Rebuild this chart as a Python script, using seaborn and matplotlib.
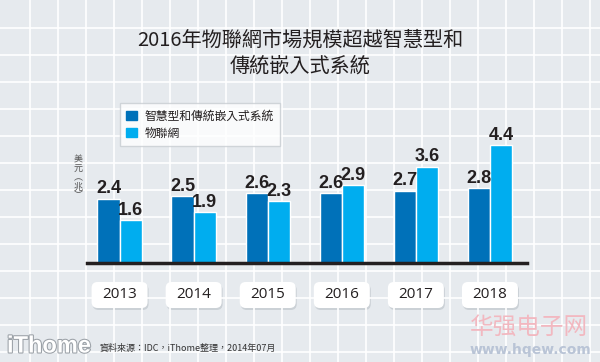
import numpy as np
import pandas as pd
import seaborn as sns
import matplotlib.pyplot as plt
import matplotlib.patheffects as pe
from matplotlib.patches import Patch, FancyBboxPatch

sns.set_style('white')
plt.rcParams['font.family'] = ['Noto Sans CJK TC', 'DejaVu Sans']

# data
years = ['2013', '2014', '2015', '2016', '2017', '2018']
embedded = [2.4, 2.5, 2.6, 2.6, 2.7, 2.8]
iot = [1.6, 1.9, 2.3, 2.9, 3.6, 4.4]
series_names = ['智慧型和傳統嵌入式系統', '物聯網']

df = pd.DataFrame({
    'year': years * 2,
    'value': embedded + iot,
    'series': [series_names[0]] * len(years) + [series_names[1]] * len(years),
})

bg = '#e6eaee'
dark = '#0071b9'
light = '#00adef'
txt = '#231f20'

W, H = 600, 362
fig = plt.figure(figsize=(6, 3.62), dpi=100)
fig.patch.set_facecolor(bg)

# background grid
bgax = fig.add_axes([0, 0, 1, 1])
bgax.set_xlim(0, W)
bgax.set_ylim(H, 0)
bgax.set_facecolor(bg)
for x in np.arange(30, W, 28):
    bgax.axvline(x, color='white', lw=1.2)
for y in np.arange(28, H, 27):
    bgax.axhline(y, color='white', lw=1.2)
bgax.axis('off')

# main bar axes: x 87..527 px, baseline at y=263 px
y0 = 263
px_per_unit = 26.8
ymax = 5.0
ax = fig.add_axes([87 / W, 1 - y0 / H, 440 / W, ymax * px_per_unit / H])
sns.barplot(data=df, x='year', y='value', hue='series',
            palette=[dark, light], width=0.6, saturation=1, ax=ax,
            legend=False)
ax.set_xlim(-0.44, 5.50)
ax.set_ylim(0, ymax)
ax.patch.set_alpha(0)
for s in ['top', 'right', 'left']:
    ax.spines[s].set_visible(False)
ax.spines['bottom'].set_color(txt)
ax.spines['bottom'].set_linewidth(2.5)
ax.set_xticks([])
ax.set_yticks([])
ax.set_xlabel('')
ax.set_ylabel('')

for cont in ax.containers:
    ax.bar_label(cont, fmt='%.1f', padding=1, fontsize=13, fontweight='bold',
                 color=txt, family=['Liberation Sans Narrow', 'Liberation Sans'])

# year boxes, placed under each group in pixel space
for i, yr in enumerate(years):
    xp, _ = ax.transData.transform((i, 0))
    bw, bh = 56, 26
    shadow = FancyBboxPatch((xp - bw / 2 + 1, 282 + 2), bw, bh,
                            boxstyle='round,pad=0,rounding_size=6',
                            fc='#9aa3ab', ec='none', alpha=0.35)
    box = FancyBboxPatch((xp - bw / 2, 282), bw, bh,
                         boxstyle='round,pad=0,rounding_size=6',
                         fc='white', ec='none')
    bgax.add_patch(shadow)
    bgax.add_patch(box)
    bgax.text(xp, 295, yr, ha='center', va='center', fontsize=11, color=txt,
              family=['Open Sans', 'DejaVu Sans'])

# title
fig.text(0.5, 1 - 40 / H, '2016年物聯網市場規模超越智慧型和',
         ha='center', va='center', fontsize=14.5, color=txt)
fig.text(0.5, 1 - 66 / H, '傳統嵌入式系統',
         ha='center', va='center', fontsize=14.5, color=txt)

# legend
handles = [Patch(color=dark), Patch(color=light)]
leg = fig.legend(handles, series_names, loc='upper left',
                 bbox_to_anchor=(120 / W, 1 - 103 / H), borderaxespad=0,
                 frameon=True, handlelength=0.9, handleheight=0.9,
                 handletextpad=0.6, borderpad=0.55, labelspacing=0.35,
                 fancybox=False, prop={'weight': 'medium', 'size': 8.5})
leg.get_frame().set_facecolor('white')
leg.get_frame().set_edgecolor('#c8cdd2')
for t in leg.get_texts():
    t.set_color(txt)

# y unit label, stacked vertically
fig.text(78 / W, 1 - 178 / H, '\n'.join('美元︵兆︶'), ha='center', va='center',
         fontsize=6.5, color='#555555', linespacing=1.0)

# footer
fig.text(100 / W, 1 - 348 / H, '資料來源：IDC，iThome整理，2014年07月',
         ha='left', va='center', fontsize=6.5, color='#333333')
fig.text(7 / W, 1 - 346 / H, 'iThome', ha='left', va='center', fontsize=17,
         fontweight='bold', color='white',
         family=['Liberation Sans Narrow', 'Liberation Sans'],
         path_effects=[pe.withStroke(linewidth=1.5, foreground='#9aa0a6')])

# watermark
fig.text(470 / W, 1 - 328 / H, '华强电子网', ha='left', va='center', fontsize=17,
         color='#f2b8c0', family=['Noto Sans CJK SC', 'DejaVu Sans'])
fig.text(470 / W, 1 - 350 / H, 'www.hqew.com', ha='left', va='center', fontsize=10,
         fontweight='bold', color='#b9c4d6', family=['DejaVu Sans'])

fig.savefig('out.png', dpi=100, facecolor=bg)
